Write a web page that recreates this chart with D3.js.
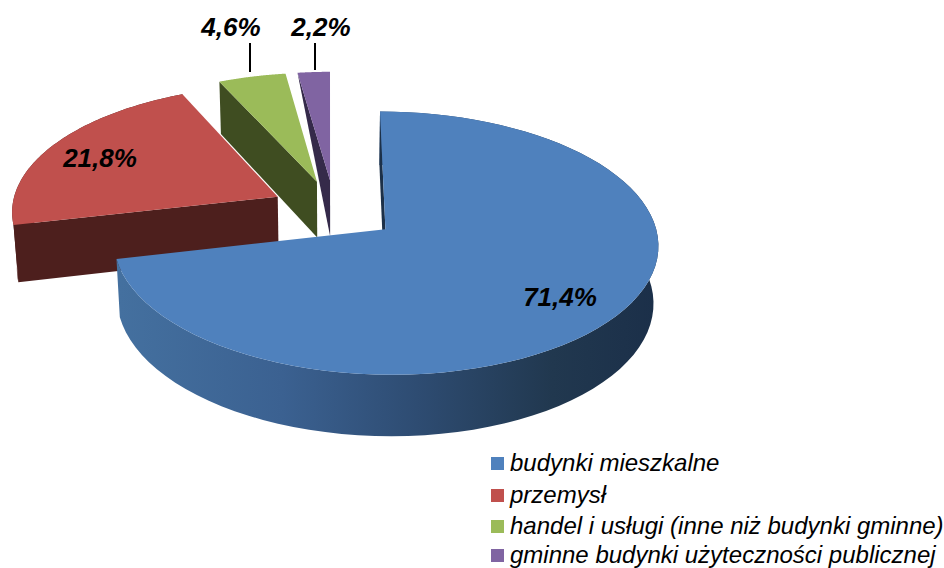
<!DOCTYPE html>
<html><head><meta charset="utf-8">
<script src="https://cdn.jsdelivr.net/npm/d3@7/dist/d3.min.js"></script>
<style>html,body{margin:0;padding:0;background:#fff}svg{display:block}text{font-family:"Liberation Sans",Arial,sans-serif;font-style:italic;fill:#000}</style>
</head><body><svg id="c" width="944" height="568"></svg>
<script>
const categories = ["budynki mieszkalne","przemysł","handel i usługi (inne niż budynki gminne)","gminne budynki użyteczności publicznej"];
const values = [71.4,21.8,4.6,2.2];
const labels = ["71,4%","21,8%","4,6%","2,2%"];
const topColors = ["#4f81bd","#c0504d","#9bbb59","#8064a2"];
const wallColors = ["#1c3048","#4d1f1d","#3f4d21","#33274a"];
const cutColors = ["#1c3048","#4d1f1d","#3f4d21","#352a4a"];
const labelPos = [[560,297],[100,158],[231,27],[321,27]];
const leaders = [null,null,[250,43,250,72],[315,43,315,70]];
const legendY = [470.5,502.5,533.5,562.5];
const gradStops = [[0,"#44709f"],[0.3,"#3b6191"],[0.55,"#2e4c72"],[0.8,"#21384f"],[1,"#1b2f49"]];
const hasRimWall = [true,true,false,false];

const svg = d3.select("#c");
// perspective projection of the pie plane
const C=[334.5,210], R=266.5, A=126, H=57.5, E=0.24, p=0.105, q=0, s=0.002, r=0.015;
function proj(u,v,w){
  const d=1+p*v+q*u+r*w;
  return [C[0]+R*(u-s*v)/d, C[1]+(-A*v+H*w)/d];
}
const pie=d3.pie().sort(null).value(d=>d)(values);
const line=d3.line();
const defs=svg.append("defs");
const g=defs.append("linearGradient").attr("id","blueWall").attr("gradientUnits","userSpaceOnUse")
  .attr("x1",120).attr("x2",660).attr("y1",0).attr("y2",0);
gradStops.forEach(t=>g.append("stop").attr("offset",t[0]).attr("stop-color",t[1]));

function drawSlice(i){
  const sl=pie[i], mid=(sl.startAngle+sl.endAngle)/2;
  const ox=E*Math.sin(mid), oy=E*Math.cos(mid);
  const pts=d3.range(0,81).map(k=>sl.startAngle+(sl.endAngle-sl.startAngle)*k/80);
  const rim=w=>pts.map(a=>proj(ox+Math.sin(a),oy+Math.cos(a),w));
  const apex=w=>proj(ox,oy,w);
  const top=rim(0), bot=rim(1);
  const gr=svg.append("g");
  const wall=(i===0)?"url(#blueWall)":wallColors[i];
  if(hasRimWall[i]) gr.append("path").attr("d",line(top.concat(bot.slice().reverse()))+"Z").attr("fill",wall);
  const cut = i===3 ? [top[0],apex(0),apex(1)]
            : [top[0],apex(0),apex(1),bot[0]];
  gr.append("path").attr("d",line(cut)+"Z").attr("fill",cutColors[i]);
  gr.append("path").attr("d",line([apex(0)].concat(top))+"Z").attr("fill",topColors[i]);
}
[1,2,3,0].forEach(drawSlice);

leaders.forEach(l=>{ if(l) svg.append("line").attr("x1",l[0]).attr("y1",l[1]).attr("x2",l[2]).attr("y2",l[3]).attr("stroke","#000").attr("stroke-width",2);});
labels.forEach((t,i)=>svg.append("text").attr("x",labelPos[i][0]).attr("y",labelPos[i][1]+9).attr("text-anchor","middle")
  .attr("font-size",26).attr("font-weight","bold").text(t));
categories.forEach((c,i)=>{
  svg.append("rect").attr("x",491).attr("y",legendY[i]-13.5).attr("width",13).attr("height",13).attr("fill",topColors[i]);
  svg.append("text").attr("x",510).attr("y",legendY[i]).attr("font-size",24).text(c);
});
</script></body></html>
